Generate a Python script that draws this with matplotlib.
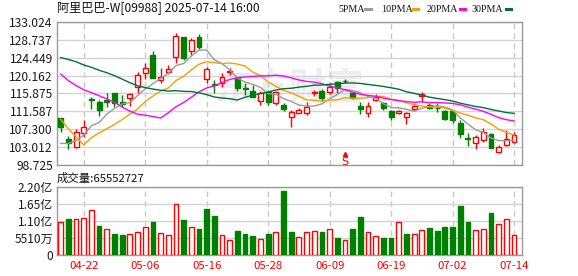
import matplotlib
matplotlib.use("Agg")
import matplotlib.pyplot as plt
from matplotlib.lines import Line2D
import numpy as np

plt.rcParams['font.family'] = ['Noto Sans CJK SC', 'DejaVu Sans']

# ---------------- data ----------------
title = "阿里巴巴-W[09988] 2025-07-14 16:00"
volume_title = "成交量:65552727"

dates = ["04-15", "04-16", "04-17", "04-22", "04-23", "04-24", "04-25", "04-28", "04-29", "04-30",
         "05-02", "05-06", "05-07", "05-08", "05-09", "05-12", "05-13", "05-14", "05-15", "05-16",
         "05-19", "05-20", "05-21", "05-22", "05-23", "05-26", "05-27", "05-28", "05-29", "05-30",
         "06-02", "06-03", "06-04", "06-05", "06-06", "06-09", "06-10", "06-11", "06-12", "06-13",
         "06-16", "06-17", "06-18", "06-19", "06-20", "06-23", "06-24", "06-25", "06-26", "06-27",
         "06-30", "07-02", "07-03", "07-04", "07-07", "07-08", "07-09", "07-10", "07-11", "07-14"]

tick_labels = ["04-22", "05-06", "05-16", "05-28", "06-09", "06-19", "07-02", "07-14"]

opens = [109.9, 105.0, 103.11, 106.47, 114.55, 113.76, 114.31, 115.92, 113.9, 114.72,
         117.5, 120.86, 125.1, 119.11, 121.1, 124.56, 129.35, 126.14, 129.5, 119.28,
         118.22, 118.32, 120.96, 119.52, 117.2, 116.55, 114.15, 116.31, 113.52, 113.11,
         110.17, 111.27, 111.12, 115.92, 116.47, 116.16, 118.63, 118.9, 115.92, 112.87,
         111.27, 114.31, 113.67, 111.75, 111.12, 110.17, 112.22, 115.27, 113.1, 112.45,
         111.75, 111.75, 108.87, 105.2, 104.07, 104.72, 106.16, 101.91, 103.45, 104.31]

highs = [110.06, 105.6, 107.36, 109.52, 115.1, 114.31, 115.92, 116.07, 115.51, 115.92,
         121.1, 123.12, 126.07, 121.92, 122.71, 130.31, 129.5, 129.11, 130.15, 122.3,
         119.11, 120.86, 122.06, 119.9, 118.46, 117.91, 116.55, 116.71, 116.55, 113.52,
         111.91, 112.47, 113.9, 116.71, 116.88, 118.32, 118.94, 119.28, 116.31, 113.9,
         113.9, 115.68, 113.9, 111.91, 111.91, 111.51, 113.52, 116.31, 113.52, 113.52,
         111.91, 111.91, 109.52, 106.47, 105.92, 107.52, 106.32, 103.52, 107.12, 106.71]

lows = [106.7, 102.6, 102.73, 105.37, 112.08, 110.55, 112.56, 112.56, 112.56, 112.87,
        116.07, 119.28, 119.52, 118.32, 120.48, 123.26, 123.91, 125.1, 126.47, 118.32,
        115.92, 117.5, 120.31, 116.55, 115.51, 114.96, 113.11, 113.11, 113.11, 111.75,
        107.91, 111.12, 110.72, 115.35, 114.15, 115.75, 115.92, 118.32, 114.48, 110.88,
        110.31, 114.15, 111.91, 109.52, 110.88, 108.56, 111.75, 113.9, 112.08, 111.51,
        109.52, 108.87, 105.27, 103.28, 102.49, 104.31, 102.73, 101.67, 103.28, 104.07]

closes = [107.9, 104.0, 106.57, 107.91, 114.24, 111.91, 113.9, 113.52, 113.4, 115.68,
          120.31, 121.92, 119.7, 119.9, 121.68, 129.67, 124.32, 128.71, 127.1, 121.68,
          117.91, 119.76, 121.34, 117.12, 117.0, 115.11, 116.07, 113.83, 116.23, 112.08,
          111.51, 111.91, 112.56, 116.31, 114.72, 117.5, 117.12, 118.8, 114.72, 112.08,
          112.87, 115.11, 112.32, 110.17, 111.67, 111.12, 112.95, 115.68, 112.5, 112.3,
          109.76, 109.52, 106.16, 105.0, 105.37, 106.71, 102.8, 103.0, 104.89, 105.99]

# closes of the 29 sessions before the window (estimated from where the MA lines start)
prior_closes = [118, 123, 131, 131, 133, 132, 134, 139, 141, 142,
                136, 130, 128, 128, 127, 129, 130, 136, 135, 135,
                127, 126, 127, 96.8, 100.7, 104.0, 103.3, 101.2, 103.1]

volumes_yi = [1.055, 1.152, 1.152, 1.184, 1.442, 0.936, 0.829, 0.678, 0.645, 0.667,
              0.732, 0.893, 1.055, 0.700, 0.635, 1.636, 1.120, 0.893, 0.829, 1.475,
              1.259, 0.635, 0.474, 0.775, 0.678, 0.613, 0.507, 0.678, 0.732, 2.065,
              0.742, 0.571, 0.732, 0.764, 0.742, 0.829, 0.549, 0.474, 0.839, 1.226,
              0.732, 0.603, 0.549, 0.549, 1.055, 0.678, 0.667, 0.796, 0.871, 0.775,
              0.904, 0.904, 1.581, 1.065, 0.796, 0.829, 1.355, 0.990, 1.152, 0.65552727]

price_ticks = [98.725, 103.012, 107.300, 111.587, 115.875, 120.162, 124.449, 128.737, 133.024]
vol_ticks_yi = [0, 0.551, 1.102, 1.653, 2.204]
vol_tick_labels = ["0", "5510万", "1.10亿", "1.65亿", "2.20亿"]

ma_periods = [5, 10, 20, 30]
ma_names = ["5PMA", "10PMA", "20PMA", "30PMA"]

marker_date = "06-11"
marker_text = "S"

# ---------------- style ----------------
RED = "#ff0000"
GREEN = "#008000"
ma_colors = ["#9a9a9a", "#f5a000", "#ff00ff", "#00703a"]
GRID = "#d4d4d4"
VGRID = "#c8c8c8"
SPINE = "#9a9a9a"
LABEL = "#1a1a1a"

W, H = 578, 276
fig = plt.figure(figsize=(W / 100, H / 100), dpi=100)


def px_axes(l, t, r, b):
    return fig.add_axes([l / W, 1 - b / H, (r - l) / W, (b - t) / H])


ax = px_axes(57, 22, 522, 165)
axv = px_axes(57, 186.7, 522, 255)

n = len(closes)
x = np.arange(n)
O = np.array(opens)
Hh = np.array(highs)
L = np.array(lows)
C = np.array(closes)
V = np.array(volumes_yi)
tick_idx = [dates.index(t) for t in tick_labels]
xlim = (-0.48, n + 0.04)

# ---------------- price panel ----------------
up = C >= O
col = np.where(up, RED, GREEN)
face = np.where(up, "white", GREEN)
body_lo = np.minimum(O, C)
body_h = np.maximum(np.abs(C - O), 0.12)

ax.vlines(x, L, Hh, colors=col, linewidth=1, zorder=2)
ax.bar(x, body_h, bottom=body_lo, width=0.64, color=face, edgecolor=col,
       linewidth=1, zorder=3)

all_c = np.array(prior_closes + closes, dtype=float)
off = len(prior_closes)
for p, c in zip(ma_periods, ma_colors):
    ma = np.array([all_c[i + off - p + 1:i + off + 1].mean() for i in range(n)])
    ax.plot(x, ma, color=c, linewidth=1, zorder=4)

mi = dates.index(marker_date)
ax.text(mi, 99.55, marker_text, color=RED, ha="center", va="center", fontsize=8,
        family=["DejaVu Sans"], zorder=5)
ax.plot([mi], [101.45], marker="^", markersize=3, color=RED, zorder=5)

ax.text(0.5, 0.53, "东方财富", transform=ax.transAxes, ha="center", va="center",
        fontsize=27, fontweight="bold", color="#ededf1", zorder=0.1)

ax.set_xlim(*xlim)
ax.set_ylim(price_ticks[0], price_ticks[-1])
ax.set_yticks(price_ticks)
ax.set_yticklabels([f"{v:.3f}" for v in price_ticks])
ax.set_xticks(tick_idx)
ax.tick_params(axis="both", length=0, labelsize=8.7, colors=LABEL, pad=3)
ax.tick_params(axis="x", labelbottom=False)
ax.set_axisbelow(True)
ax.yaxis.grid(True, color=GRID, linewidth=1)
ax.xaxis.grid(True, color=VGRID, linewidth=1, linestyle=(0, (4, 3)))
for s in ax.spines.values():
    s.set_color(SPINE)
    s.set_linewidth(1)

# ---------------- volume panel ----------------
prev = np.concatenate([[prior_closes[-1]], C[:-1]])
vup = C >= prev
vcol = np.where(vup, RED, GREEN)
vface = np.where(vup, "white", GREEN)
axv.bar(x, V, width=0.62, color=vface, edgecolor=vcol, linewidth=1, zorder=3)
axv.set_xlim(*xlim)
axv.set_ylim(vol_ticks_yi[0], vol_ticks_yi[-1])
axv.set_yticks(vol_ticks_yi)
axv.set_yticklabels(vol_tick_labels)
axv.set_xticks(tick_idx)
axv.set_xticklabels(tick_labels)
axv.tick_params(axis="both", length=0, labelsize=8.6, pad=3)
axv.tick_params(axis="y", colors=LABEL)
axv.tick_params(axis="x", colors=RED, labelsize=8.2, pad=4)
axv.set_axisbelow(True)
axv.yaxis.grid(True, color=GRID, linewidth=1)
axv.xaxis.grid(True, color=VGRID, linewidth=1, linestyle=(0, (4, 3)))
for s in axv.spines.values():
    s.set_color(SPINE)
    s.set_linewidth(1)

# ---------------- texts ----------------
fig.text(57 / W, 1 - 8.7 / H, title, ha="left", va="center", fontsize=8.7, color="#111111")
fig.text(57 / W, 1 - 178 / H, volume_title, ha="left", va="center", fontsize=8.2, color="#111111")

legend_x = [338.7, 380.7, 426.3, 472.0]
dash_x = [364.7, 412.3, 459.3, 505.0]
for name, c, lx, dx in zip(ma_names, ma_colors, legend_x, dash_x):
    fig.text(lx / W, 1 - 9 / H, name, ha="left", va="center", fontsize=7.2,
             family=["Liberation Serif"], color="#111111")
    fig.add_artist(Line2D([(dx + 0.5) / W, (dx + 6) / W], [1 - 9 / H, 1 - 9 / H],
                          color=c, linewidth=2.2, transform=fig.transFigure))

fig.savefig("out.png", dpi=100)
